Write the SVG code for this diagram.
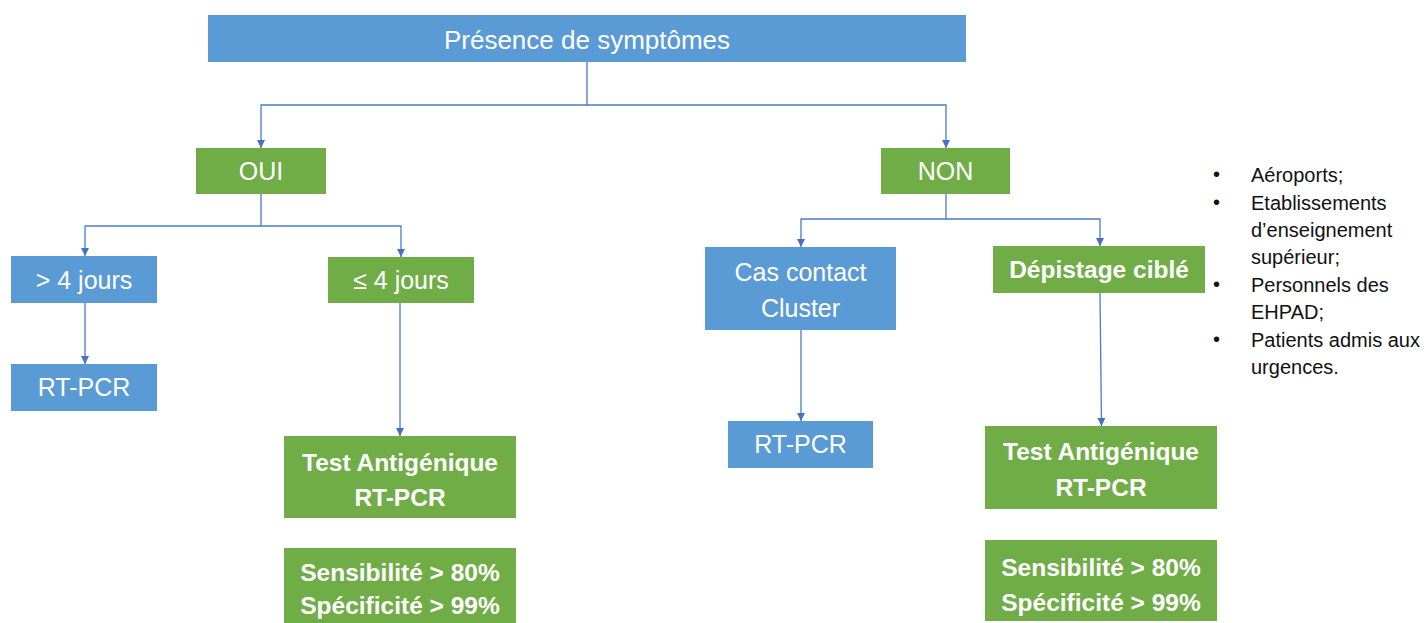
<svg xmlns="http://www.w3.org/2000/svg" width="1426" height="623" viewBox="0 0 1426 623">
<defs>
<style>
.blue{fill:#5B9BD5}
.green{fill:#70AD47}
.t{font-family:"Liberation Sans",Arial,sans-serif;fill:#ffffff;text-anchor:middle;font-size:25px}
.b{font-weight:bold;font-size:24.5px}
.c{fill:none;stroke:#4A7CC9;stroke-width:1.3}
.l{font-family:"Liberation Sans",Arial,sans-serif;fill:#111111;font-size:20px}
</style>
<marker id="arr" viewBox="0 0 10 10" refX="10" refY="5" markerWidth="8" markerHeight="8" markerUnits="userSpaceOnUse" orient="auto">
<path d="M0,0 L10,5 L0,10 z" fill="#4472C4"/>
</marker>
</defs>
<rect width="1426" height="623" fill="#ffffff"/>
<g id="connectors">
<polyline class="c" points="587,62 587,105 261,105 261,148" marker-end="url(#arr)"/>
<polyline class="c" points="587,105 946,105 946,148" marker-end="url(#arr)"/>
<polyline class="c" points="261,194 261,226 85,226 85,256" marker-end="url(#arr)"/>
<polyline class="c" points="261,226 401,226 401,257" marker-end="url(#arr)"/>
<line class="c" x1="85" y1="303" x2="85" y2="364" marker-end="url(#arr)"/>
<line class="c" x1="400" y1="303" x2="400" y2="436" marker-end="url(#arr)"/>
<polyline class="c" points="946,194 946,219 801,219 801,247" marker-end="url(#arr)"/>
<polyline class="c" points="946,219 1100,219 1100,246" marker-end="url(#arr)"/>
<line class="c" x1="801" y1="330" x2="801" y2="421" marker-end="url(#arr)"/>
<line class="c" x1="1100" y1="293" x2="1101.5" y2="426" marker-end="url(#arr)"/>
</g>
<g id="n-symptomes">
<rect class="blue" x="208" y="15" width="758" height="47"/>
<text class="t" x="587" y="49" style="font-size:26px">Présence de symptômes</text>
</g>
<g id="n-oui">
<rect class="green" x="196" y="148" width="130" height="46"/>
<text class="t" x="261" y="180">OUI</text>
</g>
<g id="n-non">
<rect class="green" x="881" y="148" width="129" height="46"/>
<text class="t" x="945.5" y="180">NON</text>
</g>
<g id="n-plus4">
<rect class="blue" x="11" y="256" width="146" height="47"/>
<text class="t" x="84" y="289">&gt; 4 jours</text>
</g>
<g id="n-moins4">
<rect class="green" x="328" y="257" width="146" height="46"/>
<text class="t" x="401" y="289">≤ 4 jours</text>
</g>
<g id="n-rtpcr1">
<rect class="blue" x="11" y="364" width="146" height="47"/>
<text class="t" x="84" y="396">RT-PCR</text>
</g>
<g id="n-test1">
<rect class="green" x="284" y="436" width="232" height="82"/>
<text class="t b" x="400" y="470.5">Test Antigénique</text>
<text class="t b" x="400" y="505.5">RT-PCR</text>
</g>
<g id="n-sens1">
<rect class="green" x="284" y="548" width="232" height="76"/>
<text class="t b" x="400" y="580.5">Sensibilité &gt; 80%</text>
<text class="t b" x="400" y="613.5">Spécificité &gt; 99%</text>
</g>
<g id="n-cas">
<rect class="blue" x="705" y="247" width="191" height="83"/>
<text class="t" x="800.5" y="281">Cas contact</text>
<text class="t" x="800.5" y="317">Cluster</text>
</g>
<g id="n-depistage">
<rect class="green" x="993" y="246" width="212" height="47"/>
<text class="t b" x="1099" y="278">Dépistage ciblé</text>
</g>
<g id="n-rtpcr2">
<rect class="blue" x="728" y="421" width="145" height="47"/>
<text class="t" x="800.5" y="453">RT-PCR</text>
</g>
<g id="n-test2">
<rect class="green" x="985" y="426" width="232" height="83"/>
<text class="t b" x="1101" y="459.5">Test Antigénique</text>
<text class="t b" x="1101" y="495.5">RT-PCR</text>
</g>
<g id="n-sens2">
<rect class="green" x="985" y="540" width="232" height="81"/>
<text class="t b" x="1101" y="575.5">Sensibilité &gt; 80%</text>
<text class="t b" x="1101" y="610.5">Spécificité &gt; 99%</text>
</g>
<g id="n-liste">
<text class="l" x="1213" y="181">•</text>
<text class="l" x="1251" y="182">Aéroports;</text>
<text class="l" x="1213" y="208.5">•</text>
<text class="l" x="1251" y="209.5">Etablissements</text>
<text class="l" x="1251" y="237">d’enseignement</text>
<text class="l" x="1251" y="264">supérieur;</text>
<text class="l" x="1213" y="291">•</text>
<text class="l" x="1251" y="292">Personnels des</text>
<text class="l" x="1251" y="319">EHPAD;</text>
<text class="l" x="1213" y="346">•</text>
<text class="l" x="1251" y="347">Patients admis aux</text>
<text class="l" x="1251" y="374">urgences.</text>
</g>
</svg>
